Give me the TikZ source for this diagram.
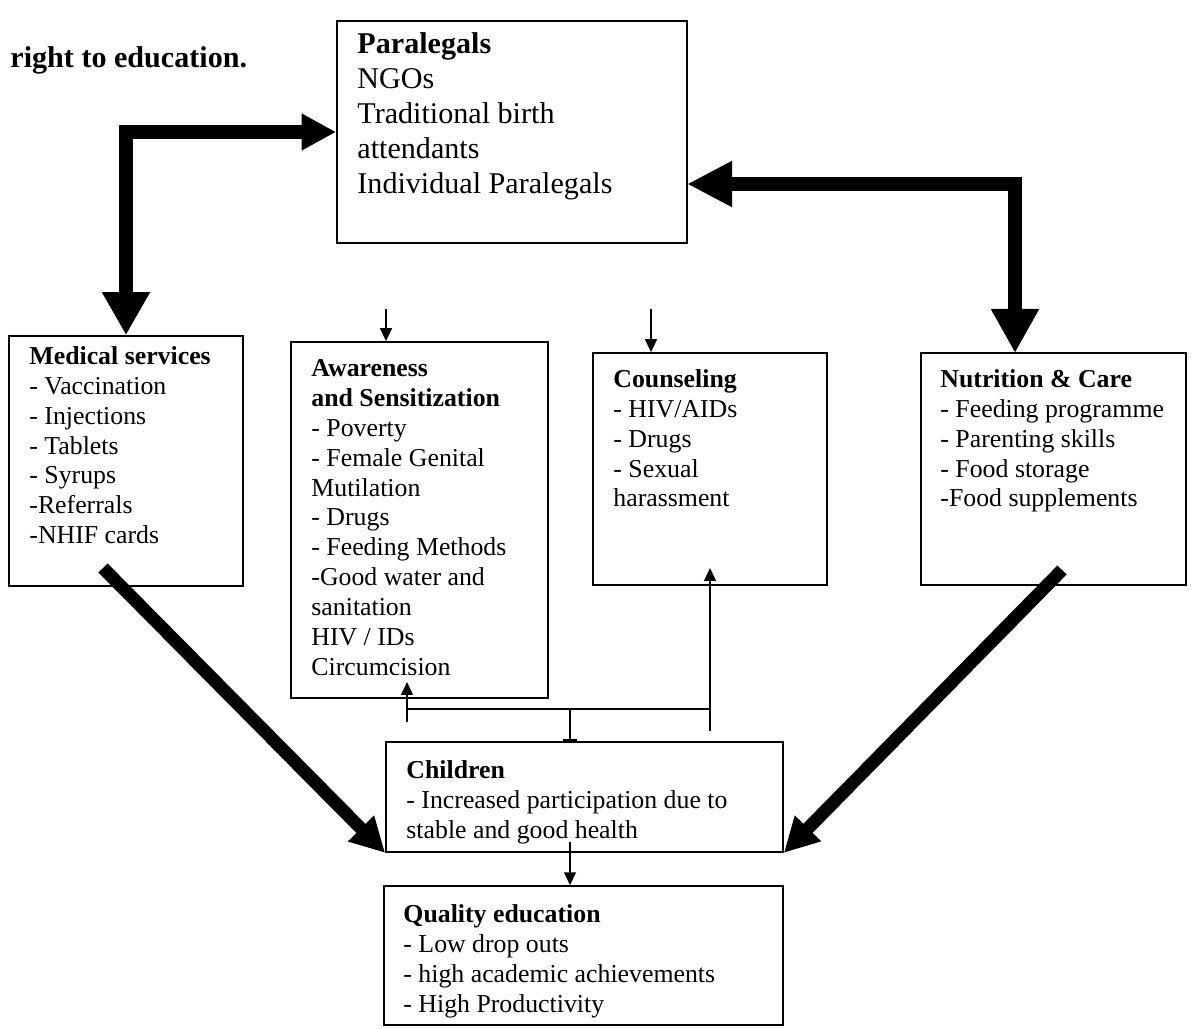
\documentclass[tikz,border=0pt]{standalone}
\usepackage{fontspec}
\setmainfont{Liberation Serif}
\usetikzlibrary{arrows.meta,fit}

\begin{document}
\begin{tikzpicture}[x=0.465pt, y=-0.465pt, line join=miter,
		box/.style={draw, line width=0.8pt, inner sep=0pt},
		txt/.style={anchor=north west, inner sep=0pt, align=left, font=\fontsize{12}{13.9}\selectfont},
		bigtxt/.style={txt, font=\fontsize{14}{16.3}\selectfont},
		fat/.style={line width=6.5pt},
		thin/.style={line width=0.8pt, -{Triangle[length=6pt,width=5.5pt]}}]
	\useasboundingbox (0,0) rectangle (1201,1028);
	% boxes
	\node[box, fit={(337,21) (687,243)}] (para) {};
	\node[box, fit={(9,336) (243,586)}] (med) {};
	\node[box, fit={(291,342) (548,698)}] (aware) {};
	\node[box, fit={(593,353) (827,585)}] (couns) {};
	\node[box, fit={(921,353) (1186,585)}] (nutr) {};
	\node[box, fit={(386,742) (783,852)}] (child) {};
	\node[box, fit={(384,886) (783,1025)}] (qual) {};
	% texts
	\node[txt, font=\fontsize{14}{16.3}\selectfont\bfseries] (head) at (10,46) {right to education.};
	\node[bigtxt] (paratxt) at (357,32) {\textbf{Paralegals}\\NGOs\\Traditional birth\\attendants\\Individual Paralegals};
	\node[txt] (medtxt) at (29,346) {\textbf{Medical services}\\- Vaccination\\- Injections\\- Tablets\\- Syrups\\-Referrals\\-NHIF cards};
	\node[txt] (awaretxt) at (311,359) {\textbf{Awareness}\\\textbf{and Sensitization}\\- Poverty\\- Female Genital\\Mutilation\\- Drugs\\- Feeding Methods\\-Good water and\\sanitation\\HIV / IDs\\Circumcision};
	\node[txt] (counstxt) at (613,369) {\textbf{Counseling}\\- HIV/AIDs\\- Drugs\\- Sexual\\harassment};
	\node[txt] (nutrtxt) at (940,369) {\textbf{Nutrition \& Care}\\- Feeding programme\\- Parenting skills\\- Food storage\\-Food supplements};
	\node[txt] (childtxt) at (406,760) {\textbf{Children}\\- Increased participation due to\\stable and good health};
	\node[txt] (qualtxt) at (403,904) {\textbf{Quality education}\\- Low drop outs\\- high academic achievements\\- High Productivity};
	% free ends
	\coordinate (parR) at (687,184);
	\coordinate (nutrT) at (1015,353);
	\coordinate (medS) at (103,568);
	\coordinate (nutrS) at (1062,570);
	\coordinate (awareIn) at (386,309);
	\coordinate (counsIn) at (651,309);
	\coordinate (jL) at (407,709);
	\coordinate (jM) at (570,709);
	\coordinate (jR) at (710,709);
	\coordinate (jLs) at (407,722);
	\coordinate (jRs) at (710,731);
	\coordinate (awareUp) at (407,682);
	\coordinate (counsUp) at (710,568);
	\coordinate (childOut) at (570,842);
	% fat arrows
	\draw[fat, {Triangle[length=20pt,width=21pt]}-{Triangle[length=16pt,width=16pt]}] (med.north) |- (para.west);
	\draw[fat, {Triangle[length=20.5pt,width=21pt]}-{Triangle[length=21pt,width=20pt]}] (nutrT) |- (parR);
	\draw[line width=6pt, -{Triangle[length=16pt,width=16pt]}] (medS) -- (child.south west);
	\draw[line width=6pt, -{Triangle[length=16pt,width=16pt]}] (nutrS) -- (child.south east);
	% thin arrows
	\draw[thin] (awareIn) -- (aware.north -| awareIn);
	\draw[thin] (counsIn) -- (couns.north -| counsIn);
	\draw[line width=0.8pt] (jL) -- (jR);
	\draw[thin] (jLs) -- (awareUp);
	\draw[thin] (jRs) -- (counsUp);
	\draw[line width=0.8pt, -{Bar[width=6.5pt]}] (jM) -- (child.north -| jM);
	\draw[thin] (childOut) -- (qual.north -| childOut);
\end{tikzpicture}
\end{document}
